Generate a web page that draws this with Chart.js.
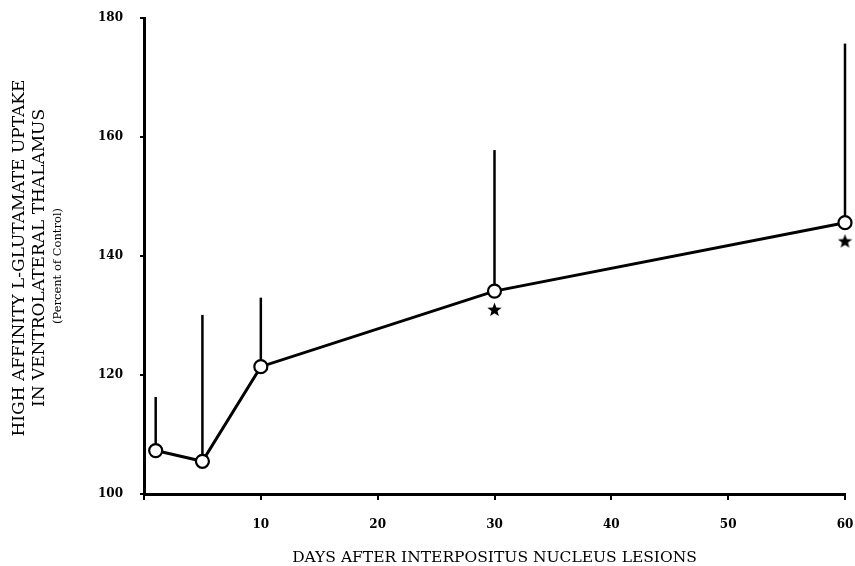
<!DOCTYPE html>
<html>
<head>
<meta charset="utf-8">
<script src="https://cdn.jsdelivr.net/npm/chart.js@4.4.1/dist/chart.umd.min.js"></script>
<style>
  html, body { margin: 0; padding: 0; background: #fff; }
  #wrap { width: 855px; height: 566px; }
</style>
</head>
<body>
<div id="wrap"><canvas id="chart" width="855" height="566"></canvas></div>
<script>
// glutamate uptake after interpositus lesions
var days      = [1, 5, 10, 30, 60];
var uptake    = [107.3, 105.5, 121.4, 134.1, 145.6];   // percent of control
var errTop    = [116.3, 130.1, 133.0, 157.8, 175.7];   // upper end of error bar
var starDays  = [30, 60];                               // significant points
var starVals  = [131.0, 142.5];
var xTicks    = [0, 10, 20, 30, 40, 50, 60];
var yTicks    = [100, 120, 140, 160, 180];

var yTitle = ['HIGH AFFINITY L-GLUTAMATE UPTAKE', 'IN VENTROLATERAL THALAMUS', '(Percent of Control)'];
var xTitle = 'DAYS AFTER INTERPOSITUS NUCLEUS LESIONS';

var SERIF = "'DejaVu Serif', 'Liberation Serif', serif";

// filled five point star used as the point style for significance marks
function makeStar(size) {
  var c = document.createElement('canvas');
  c.width = size; c.height = size;
  var g = c.getContext('2d');
  var cx = size / 2, cy = size / 2 + 0.5, R = size / 2, r = R * 0.42;
  g.beginPath();
  for (var k = 0; k < 10; k++) {
    var a = -Math.PI / 2 + k * Math.PI / 5;
    var rad = (k % 2 === 0) ? R : r;
    g.lineTo(cx + rad * Math.cos(a), cy + rad * Math.sin(a));
  }
  g.closePath();
  g.fillStyle = '#000';
  g.fill();
  return c;
}

// vertical error bars, upward only, no caps
var errorBars = {
  id: 'errorBars',
  beforeDatasetsDraw: function(chart) {
    var ctx = chart.ctx, xs = chart.scales.x, ys = chart.scales.y;
    ctx.save();
    ctx.strokeStyle = '#000';
    ctx.lineWidth = 2.5;
    for (var i = 0; i < days.length; i++) {
      var px = xs.getPixelForValue(days[i]);
      ctx.beginPath();
      ctx.moveTo(px, ys.getPixelForValue(uptake[i]));
      ctx.lineTo(px, ys.getPixelForValue(errTop[i]));
      ctx.stroke();
    }
    ctx.restore();
  }
};

// three line rotated y title, last line smaller
var yTitlePlugin = {
  id: 'yTitle',
  afterDraw: function(chart) {
    var ctx = chart.ctx, a = chart.chartArea;
    var mid = (a.top + a.bottom) / 2;
    var xs = [20, 40, 58];
    var cys = [mid + 2, mid + 2, mid + 10];
    var fonts = ['17px ' + SERIF, '17px ' + SERIF, '11.5px ' + SERIF];
    ctx.save();
    ctx.fillStyle = '#000';
    ctx.textAlign = 'center';
    ctx.textBaseline = 'middle';
    for (var i = 0; i < yTitle.length; i++) {
      ctx.save();
      ctx.translate(xs[i], cys[i]);
      ctx.rotate(-Math.PI / 2);
      ctx.font = fonts[i];
      ctx.fillText(yTitle[i], 0, 0);
      ctx.restore();
    }
    ctx.restore();
  }
};

var lineData = days.map(function(d, i) { return { x: d, y: uptake[i] }; });
var starData = starDays.map(function(d, i) { return { x: d, y: starVals[i] }; });

new Chart(document.getElementById('chart'), {
  type: 'scatter',
  data: {
    datasets: [{
      label: 'Uptake',
      data: lineData,
      showLine: true,
      borderColor: '#000',
      borderWidth: 3,
      pointRadius: 6.5,
      pointBorderWidth: 2.2,
      pointBackgroundColor: '#fff',
      pointBorderColor: '#000',
      tension: 0,
      clip: false
    }, {
      label: 'Significant',
      data: starData,
      showLine: false,
      pointStyle: makeStar(15),
      clip: false
    }]
  },
  options: {
    responsive: false,
    animation: false,
    layout: { padding: { left: 0, top: 18, right: 10, bottom: 0 } },
    plugins: {
      legend: { display: false },
      tooltip: { enabled: false }
    },
    scales: {
      x: {
        type: 'linear',
        min: 0, max: 60,
        afterFit: function(s) { s.height = 72; s.paddingLeft = 0; s.paddingRight = 0; },
        afterBuildTicks: function(s) { s.ticks = xTicks.map(function(v) { return { value: v }; }); },
        border: { display: true, color: '#000', width: 3 },
        grid: { drawOnChartArea: false, drawTicks: true, tickLength: 6, color: '#000', lineWidth: 2 },
        ticks: {
          color: '#000',
          padding: 18,
          maxRotation: 0,
          font: { family: SERIF, size: 12, weight: 'bold' },
          callback: function(v) { return v === 0 ? '' : v; }
        },
        title: {
          display: true,
          text: xTitle,
          color: '#000',
          padding: { top: 0, bottom: 0 },
          font: { family: SERIF, size: 15.5, lineHeight: 1.0 }
        }
      },
      y: {
        min: 100, max: 180,
        afterFit: function(s) { s.width = 144; s.paddingTop = 0; s.paddingBottom = 0; },
        afterBuildTicks: function(s) { s.ticks = yTicks.map(function(v) { return { value: v }; }); },
        border: { display: true, color: '#000', width: 3 },
        grid: { drawOnChartArea: false, drawTicks: true, tickLength: 4, color: '#000', lineWidth: 2 },
        ticks: {
          color: '#000',
          padding: 17,
          font: { family: SERIF, size: 12, weight: 'bold' }
        }
      }
    }
  },
  plugins: [errorBars, yTitlePlugin]
});
</script>
</body>
</html>
